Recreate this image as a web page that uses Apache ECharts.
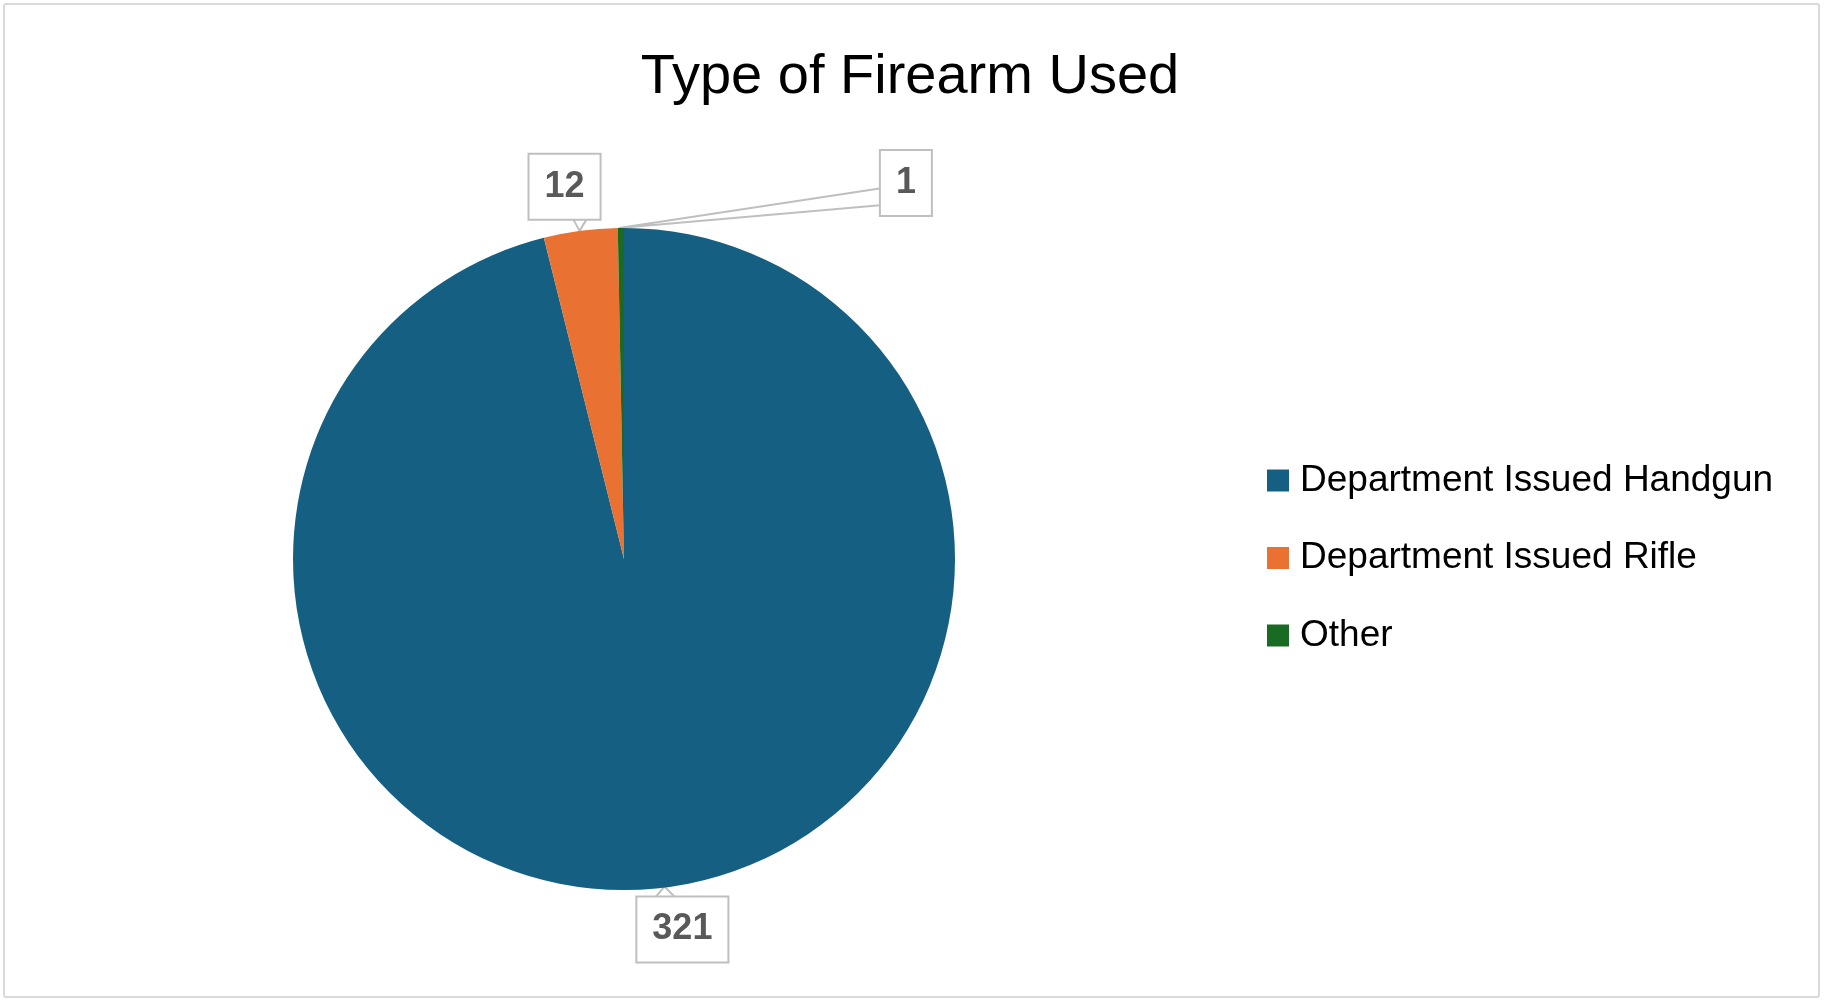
<!DOCTYPE html>
<html>
<head>
<meta charset="utf-8">
<title>Type of Firearm Used</title>
<script src="https://cdn.jsdelivr.net/npm/echarts@6/dist/echarts.min.js"></script>
<style>
    body { margin: 0; background: #fff; }
    #chart { width: 1824px; height: 1003px; }
    #frame {
        position: absolute; left: 3px; top: 3px; width: 1813px; height: 991px;
        border: 2px solid #d9d9d9; border-radius: 3px; pointer-events: none;
    }
</style>
</head>
<body>
<div id="chart"></div>
<div id="frame"></div>
<script>
// 数据
var categories = ['Department Issued Handgun', 'Department Issued Rifle', 'Other'];
var counts = [321, 12, 1];
var colors = ['#156082', '#E97132', '#196B24'];

var chart = echarts.init(document.getElementById('chart'));

// 标签框相对扇区外缘点的位置
function placeLabel(params) {
    var p = params.labelLinePoints;
    if (!p) return;
    var ax = p[0][0], ay = p[0][1];
    if (params.dataIndex === 0) {
        return {
            x: ax + 18, y: ay + 10, align: 'center', verticalAlign: 'top',
            labelLinePoints: [[ax - 10, ay + 11], [ax, ay - 1], [ax + 12, ay + 11]]
        };
    }
    if (params.dataIndex === 1) {
        return {
            x: ax - 16, y: ay - 12, align: 'center', verticalAlign: 'bottom',
            labelLinePoints: [[ax - 8, ay - 13], [ax - 1, ay], [ax + 7, ay - 13]]
        };
    }
    return {
        x: ax + 285, y: ay - 45, align: 'center', verticalAlign: 'middle',
        labelLinePoints: [[ax + 262, ay - 40], [ax - 2, ay], [ax + 262, ay - 23]]
    };
}

var option = {
    backgroundColor: '#fff',
    color: colors,
    title: {
        text: 'Type of Firearm Used',
        left: 910,
        top: 50,
        padding: 0,
        textAlign: 'center',
        textStyle: {
            fontFamily: 'Liberation Sans',
            fontSize: 56,
            fontWeight: 'normal',
            color: '#000'
        }
    },
    legend: {
        orient: 'vertical',
        left: 1267,
        top: 462,
        padding: 0,
        itemWidth: 22,
        itemHeight: 22,
        itemGap: 40.5,
        icon: 'rect',
        data: categories,
        textStyle: {
            fontFamily: 'Liberation Sans',
            fontSize: 37,
            lineHeight: 37,
            color: '#000',
            padding: [0, 0, 0, 6]
        }
    },
    series: [{
        type: 'pie',
        center: [624, 559],
        radius: 331,
        startAngle: 90,
        clockwise: true,
        avoidLabelOverlap: false,
        emphasis: { scale: false },
        itemStyle: { borderWidth: 0 },
        data: categories.map(function (name, i) {
            return { name: name, value: counts[i] };
        }),
        label: {
            show: true,
            position: 'outside',
            formatter: '{c}',
            fontFamily: 'Liberation Sans',
            fontSize: 36,
            lineHeight: 36,
            fontWeight: 'bold',
            color: '#595959',
            backgroundColor: '#fff',
            borderColor: '#bfbfbf',
            borderWidth: 2,
            padding: [14, 15]
        },
        labelLine: {
            show: true,
            length: 10,
            length2: 10,
            smooth: false,
            lineStyle: { color: '#bfbfbf', width: 2 }
        },
        labelLayout: placeLabel
    }]
};
chart.setOption(option);
</script>
</body>
</html>
